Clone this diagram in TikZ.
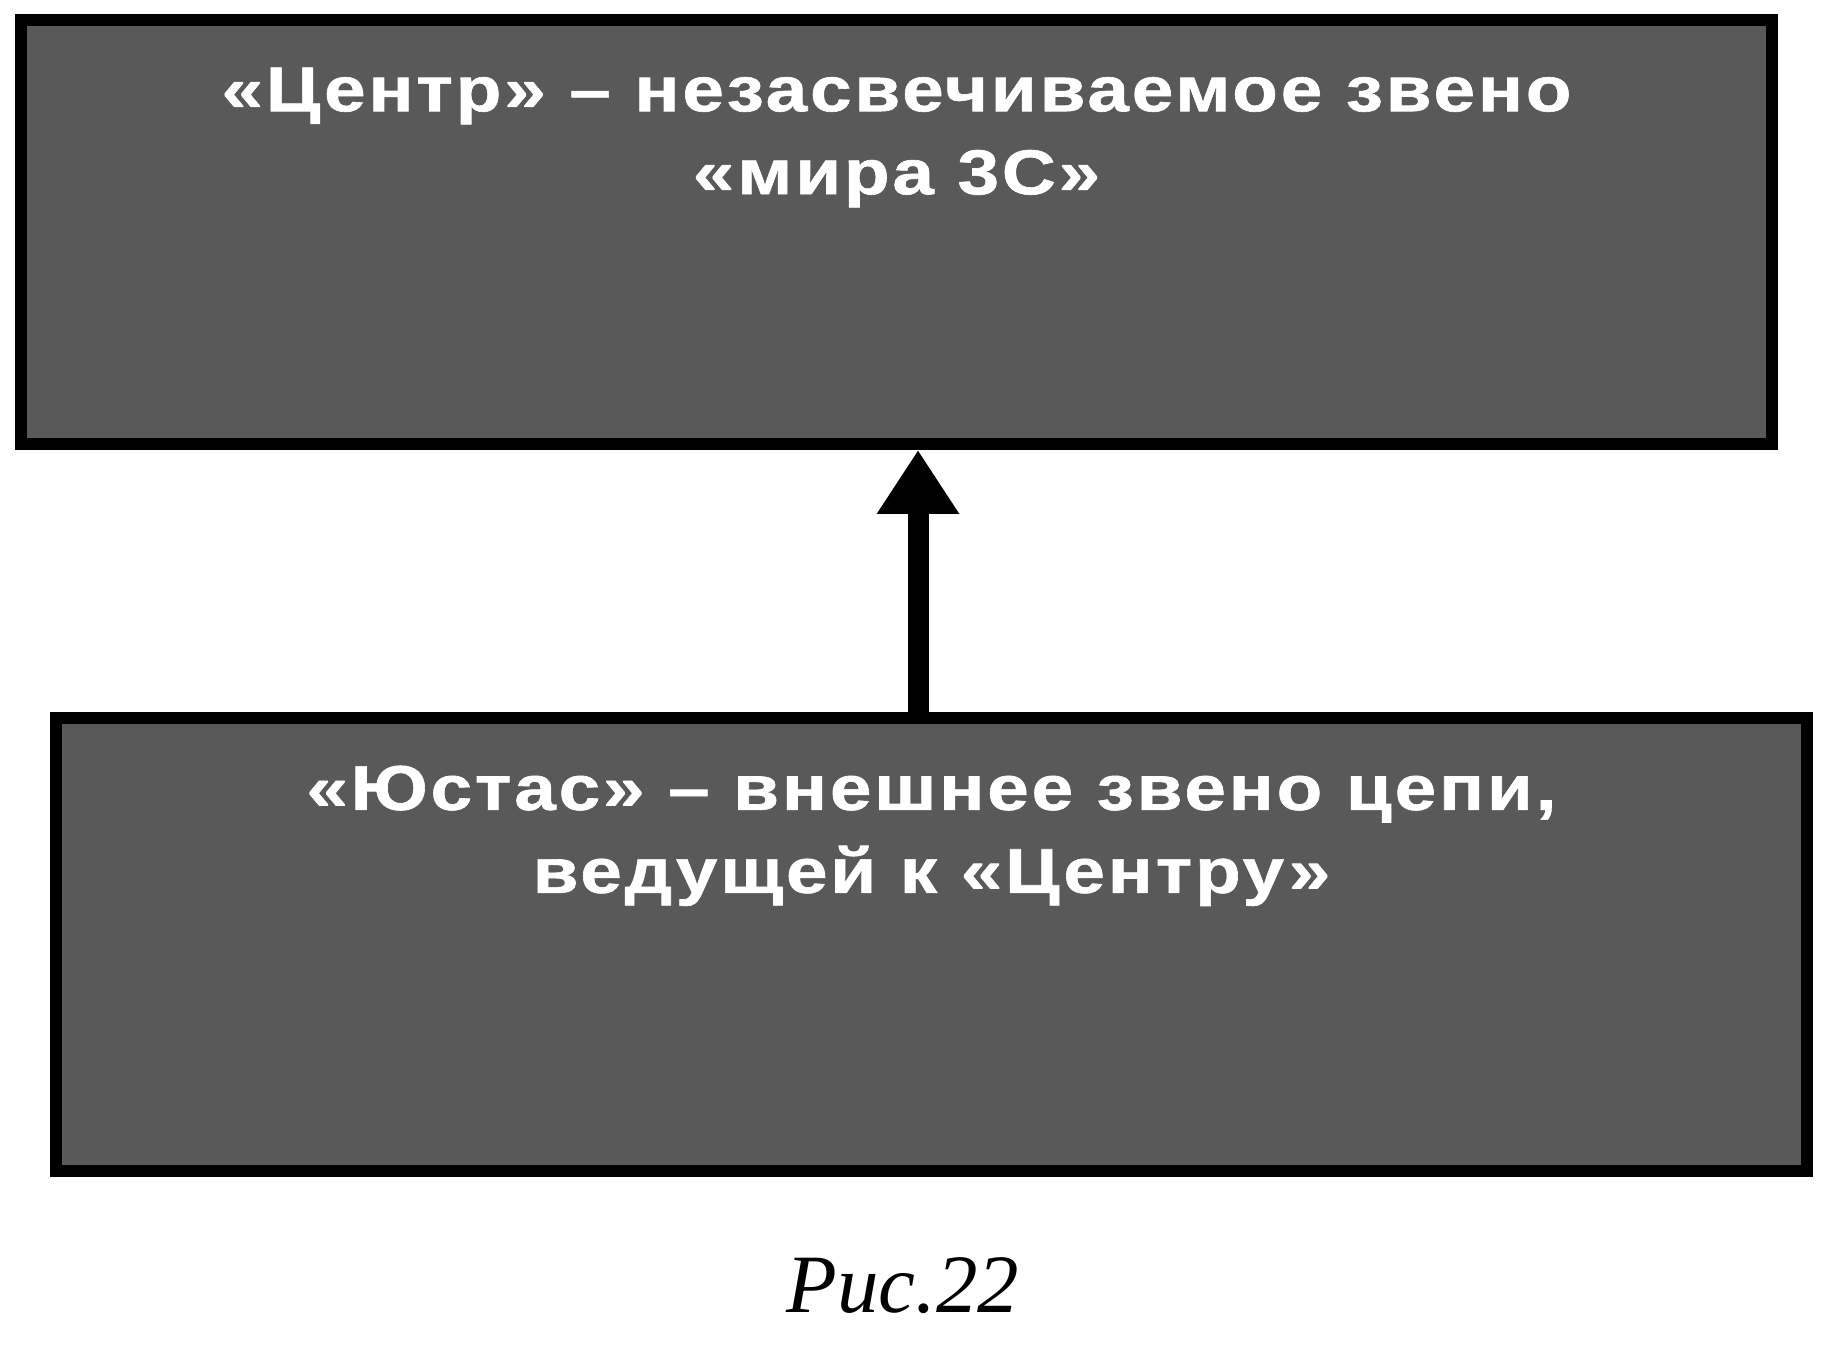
\documentclass[tikz,border=0pt]{standalone}
\usepackage{fontspec}
\setmainfont{Liberation Serif}
\newfontfamily\boxfont[FakeStretch=1.18, LetterSpace=4.5, FakeBold=1]{Liberation Sans}
\usetikzlibrary{arrows.meta,positioning}
\begin{document}
\begin{tikzpicture}
        [box/.style={rectangle, draw, line width=1.2mm, fill=black!65,
            minimum width=17.51cm, inner sep=0pt},
        boxtext/.style={text=white, align=center, inner sep=0pt,
            font=\boxfont\bfseries\fontsize{18}{23.6}\selectfont},]

        \useasboundingbox (0,0) rectangle (18.28,-13.46);

        \node[box, minimum height=4.24cm] (centre) at (8.965,-2.32) {};
        \node[box, minimum height=4.53cm] (eustace) at (9.315,-9.445) {};

        \node[boxtext, anchor=north] (centretext) at ([yshift=-5.3mm]centre.north)
            {«Центр» – незасвечиваемое звено\\«мира 3С»};
        \node[boxtext, anchor=north] (eustacetext) at ([yshift=-5.3mm]eustace.north)
            {«Юстас» – внешнее звено цепи,\\ведущей к «Центру»};

        \coordinate (foot) at ([xshift=-1.35mm]eustace.north);
        \draw[line width=2.1mm, -{Triangle[width=7.8mm, length=6.4mm]}]
            (foot) -- (foot |- centre.south);

        \node[anchor=base, font=\itshape\fontsize{23.6}{28}\selectfont] (caption)
            at (9.03,-13.12) {Рис.22};

    \end{tikzpicture}
\end{document}
